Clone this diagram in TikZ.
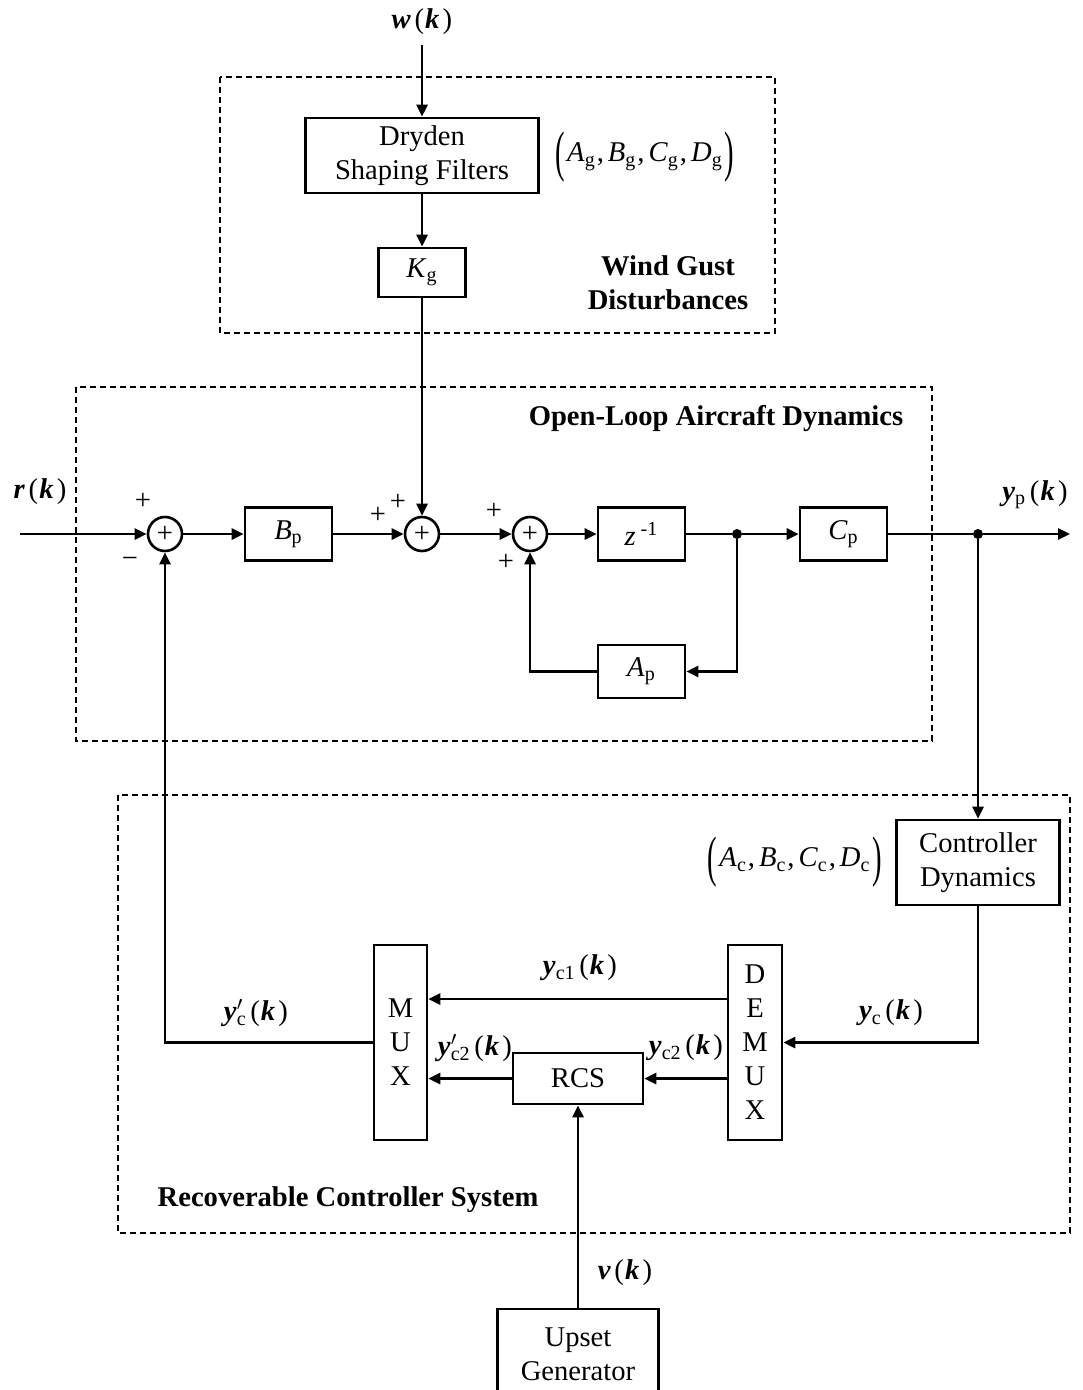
\documentclass[tikz,border=0pt]{standalone}
\usepackage{fontspec}
\setmainfont{Liberation Serif}
\usepackage{graphicx}
\usetikzlibrary{arrows.meta}
\newcommand\bi[1]{\textbf{\textit{#1}}}
\newcommand\ofk{\kern1.8pt(\kern0.6pt\bi{k}\kern1.6pt)}
\newcommand\bigpl{\raisebox{-0.3em}{\scalebox{1}[1.95]{(}}\kern1pt}
\newcommand\bigpr{\kern1pt\raisebox{-0.3em}{\scalebox{1}[1.95]{)}}}
\newcommand\prm{\rlap{\textsuperscript{$\prime$}}}
\newcommand\cm{\kern0.5pt,\kern2pt}
\begin{document}
\begin{tikzpicture}[x=0.5pt,y=-0.5pt,
  every node/.style={font=\fontsize{14.3}{17}\selectfont},
  blk/.style={draw, line width=1.3pt, inner sep=0pt, align=center},
  sumc/.style={draw, circle, line width=1.3pt, minimum size=17pt, inner sep=0pt},
  conn/.style={line width=1.3pt},
  arr/.style={conn, -{Triangle[length=6pt,width=5.5pt]}},
  grp/.style={line width=0.7pt, dash pattern=on 3pt off 2pt},
  jdot/.style={circle, fill, minimum size=5pt, inner sep=0pt},
  lbl/.style={inner sep=0pt},
  ttl/.style={font=\fontsize{14.3}{17}\selectfont\bfseries, align=center, inner sep=0pt}]
\useasboundingbox (0,0) rectangle (1082,1390);

% group frames
\draw[grp] (220,77) rectangle (775,333);
\draw[grp] (76,387) rectangle (932,741);
\draw[grp] (118,795) rectangle (1070,1233);

% blocks
\node[blk, minimum width=116.5pt, minimum height=37.5pt] (dryden) at (422,155.5) {Dryden\\Shaping Filters};
\node[blk, minimum width=43.5pt, minimum height=24.5pt] (kg) at (422,272.5) {\textit{K}\textsubscript{g}};
\node[blk, minimum width=43.5pt, minimum height=26.5pt] (bp) at (288.5,534) {\textit{B}\textsubscript{p}};
\node[blk, minimum width=43.5pt, minimum height=26.5pt] (zinv) at (641.5,534) {\textit{z}\,\textsuperscript{-1}};
\node[blk, minimum width=43.5pt, minimum height=26.5pt] (cp) at (843.5,534) {\textit{C}\textsubscript{p}};
\node[blk, minimum width=43.5pt, minimum height=26.5pt] (ap) at (641.5,671.5) {\textit{A}\textsubscript{p}};
\node[blk, minimum width=81.5pt, minimum height=42.5pt] (ctrl) at (978,862.5) {Controller\\Dynamics};
\node[blk, minimum width=27pt, minimum height=97.5pt] (demux) at (755,1042.5) {D\\E\\M\\U\\X};
\node[blk, minimum width=26.5pt, minimum height=97.5pt] (mux) at (400.5,1042.5) {M\\U\\X};
\node[blk, minimum width=65pt, minimum height=25.5pt] (rcs) at (578,1078.5) {RCS};
\node[blk, minimum width=80.5pt, minimum height=45.5pt] (upset) at (578,1354.5) {Upset\\Generator};

% summing junctions
\node[sumc] (s1) at (165,534) {+};
\node[sumc] (s2) at (422,534) {+};
\node[sumc] (s3) at (530,534) {+};

% branch points
\node[jdot] (j1) at (737,534) {};
\node[jdot] (j2) at (978,534) {};
\coordinate (win) at (422,45);
\coordinate (rin) at (20,534);
\coordinate (yout) at (1070,534);

% connectors
\draw[arr] (win) -- (dryden.north);
\draw[arr] (dryden.south) -- (kg.north);
\draw[arr] (kg.south) -- (s2.north);
\draw[arr] (rin) -- (s1.west);
\draw[arr] (s1.east) -- (bp.west);
\draw[arr] (bp.east) -- (s2.west);
\draw[arr] (s2.east) -- (s3.west);
\draw[arr] (s3.east) -- (zinv.west);
\draw[conn] (zinv.east) -- (j1);
\draw[arr] (j1) -- (cp.west);
\draw[conn] (cp.east) -- (j2);
\draw[arr] (j2) -- (yout);
\draw[arr] (j1) |- (ap.east);
\draw[arr] (ap.west) -| (s3.south);
\draw[arr] (j2) -- (ctrl.north);
\draw[arr] (ctrl.south) |- (demux.east);
\draw[arr] (demux.west |- 0,999) -- (mux.east |- 0,999);
\draw[arr] (demux.west |- rcs.east) -- (rcs.east);
\draw[arr] (rcs.west) -- (mux.east |- rcs.west);
\draw[arr] (mux.west) -| (s1.south);
\draw[arr] (upset.north) -- (rcs.south);

% signal labels
\node[lbl] (lw) at (422,22) {\bi{w}\ofk};
\node[lbl] (lr) at (40,492) {\bi{r}\ofk};
\node[lbl] (lyp) at (1035,495) {\bi{y}\textsubscript{p}\ofk};
\node[lbl] (lp1) at (143,501) {+};
\node[lbl] (lm1) at (130,562) {\textminus};
\node[lbl] (lp2) at (378,515) {+};
\node[lbl] (lp3) at (398,502) {+};
\node[lbl] (lp4) at (494,511) {+};
\node[lbl] (lp5) at (506,562) {+};
\node[lbl] (lg) at (645,157) {\bigpl\textit{A}\textsubscript{g}\cm\textit{B}\textsubscript{g}\cm\textit{C}\textsubscript{g}\cm\textit{D}\textsubscript{g}\bigpr};
\node[lbl] (lc) at (795,862) {\bigpl\textit{A}\textsubscript{c}\cm\textit{B}\textsubscript{c}\cm\textit{C}\textsubscript{c}\cm\textit{D}\textsubscript{c}\bigpr};
\node[lbl] (lyc1) at (580,968) {\bi{y}\textsubscript{c1}\ofk};
\node[lbl] (lycp) at (256,1013) {\bi{y}\prm\textsubscript{c}\ofk};
\node[lbl] (lyc) at (891,1013) {\bi{y}\textsubscript{c}\ofk};
\node[lbl] (lyc2p) at (475,1048) {\bi{y}\prm\textsubscript{c2}\ofk};
\node[lbl] (lyc2) at (686,1048) {\bi{y}\textsubscript{c2}\ofk};
\node[lbl] (lv) at (625,1273) {\bi{v}\ofk};

% group titles
\node[ttl] (twind) at (668,283) {Wind Gust\\Disturbances};
\node[ttl] (topen) at (716,419) {Open-Loop Aircraft Dynamics};
\node[ttl] (trec) at (348,1200) {Recoverable Controller System};
\end{tikzpicture}
\end{document}
